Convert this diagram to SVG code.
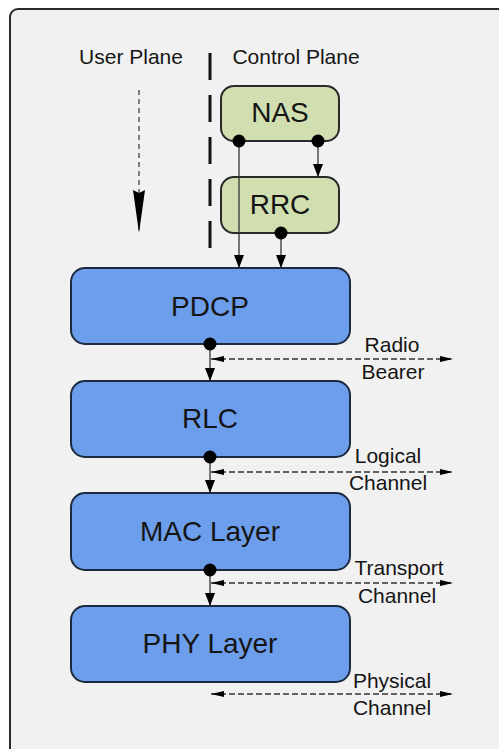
<svg xmlns="http://www.w3.org/2000/svg" width="499" height="749" viewBox="0 0 499 749">
  <style>
    .frame { fill: #f1f1f1; stroke: #2b2b2b; stroke-width: 2; }
    .layer { fill: #6d9eeb; stroke: #1c2a40; stroke-width: 2; }
    .ctrl { fill: #d1dfb0; stroke: #2a2a2a; stroke-width: 2; }
    .big { font-family: "Liberation Sans", Arial, sans-serif; font-size: 28px; fill: #151515; text-anchor: middle; }
    .lbl { font-family: "Liberation Sans", Arial, sans-serif; font-size: 21px; fill: #151515; text-anchor: middle; }
    .down { stroke: #333; stroke-width: 1.3; fill: none; marker-end: url(#head); }
    .chan { stroke: #333; stroke-width: 1.5; fill: none; stroke-dasharray: 6 3; marker-start: url(#tip); marker-end: url(#tip); }
    .dot { fill: #000; }
  </style>
  <defs>
    <marker id="head" viewBox="0 0 13 10" refX="13" refY="5" markerWidth="13" markerHeight="10" markerUnits="userSpaceOnUse" orient="auto">
      <path d="M0,0 L13,5 L0,10 z" fill="#000"/>
    </marker>
    <marker id="tip" viewBox="0 0 13 6" refX="13" refY="3" markerWidth="13" markerHeight="6" markerUnits="userSpaceOnUse" orient="auto-start-reverse">
      <path d="M0,0 L13,3 L0,6 z" fill="#000"/>
    </marker>
    <marker id="longhead" viewBox="0 0 43 12" refX="43" refY="6" markerWidth="43" markerHeight="12" markerUnits="userSpaceOnUse" orient="auto">
      <path d="M0,0 L43,6 L0,12 L3,6 z" fill="#000"/>
    </marker>
  </defs>

  <!-- outer panel, cut at the right and bottom edges -->
  <rect class="frame" x="10" y="9" width="520" height="770" rx="8"/>

  <!-- plane headings and divider -->
  <g id="planes">
    <text class="lbl" x="131" y="64">User Plane</text>
    <text class="lbl" x="296" y="64">Control Plane</text>
    <line x1="210" y1="53" x2="210" y2="248" stroke="#111" stroke-width="3" stroke-dasharray="27 15"/>
    <line x1="139" y1="90" x2="139" y2="233" stroke="#444" stroke-width="1.3" stroke-dasharray="5 4" marker-end="url(#longhead)"/>
  </g>

  <g id="nas">
    <rect class="ctrl" x="221" y="86" width="118" height="55" rx="13"/>
    <text class="big" x="280" y="122">NAS</text>
  </g>
  <g id="rrc">
    <rect class="ctrl" x="221" y="177" width="118" height="56" rx="13"/>
    <text class="big" x="280" y="214">RRC</text>
  </g>
  <g id="pdcp">
    <rect class="layer" x="71" y="268" width="279" height="76" rx="14"/>
    <text class="big" x="210" y="316">PDCP</text>
  </g>
  <g id="rlc">
    <rect class="layer" x="71" y="381" width="279" height="76" rx="14"/>
    <text class="big" x="210" y="428">RLC</text>
  </g>
  <g id="mac">
    <rect class="layer" x="71" y="493" width="279" height="77" rx="14"/>
    <text class="big" x="210" y="541">MAC Layer</text>
  </g>
  <g id="phy">
    <rect class="layer" x="71" y="606" width="279" height="76" rx="14"/>
    <text class="big" x="210" y="653">PHY Layer</text>
  </g>

  <!-- connectors between layers -->
  <g id="connectors">
    <line class="down" x1="239" y1="141" x2="239" y2="268"/>
    <line class="down" x1="318" y1="141" x2="318" y2="177"/>
    <line class="down" x1="281" y1="233" x2="281" y2="268"/>
    <line class="down" x1="210" y1="344" x2="210" y2="381"/>
    <line class="down" x1="210" y1="457" x2="210" y2="493"/>
    <line class="down" x1="210" y1="570" x2="210" y2="606"/>

    <circle class="dot" cx="239" cy="141" r="6.5"/>
    <circle class="dot" cx="318" cy="141" r="6.5"/>
    <circle class="dot" cx="281" cy="233" r="6.5"/>
    <circle class="dot" cx="210" cy="344" r="6.5"/>
    <circle class="dot" cx="210" cy="457" r="6.5"/>
    <circle class="dot" cx="210" cy="570" r="6.5"/>

    <line class="chan" x1="211" y1="359" x2="453" y2="359"/>
    <line class="chan" x1="211" y1="472" x2="453" y2="472"/>
    <line class="chan" x1="211" y1="583" x2="453" y2="583"/>
    <line class="chan" x1="211" y1="694" x2="453" y2="694"/>
  </g>

  <!-- channel labels -->
  <g id="channel-labels">
    <text class="lbl" x="392" y="352">Radio</text>
    <text class="lbl" x="393" y="379">Bearer</text>
    <text class="lbl" x="388" y="463">Logical</text>
    <text class="lbl" x="388" y="490">Channel</text>
    <text class="lbl" x="399" y="575">Transport</text>
    <text class="lbl" x="397" y="603">Channel</text>
    <text class="lbl" x="392" y="688">Physical</text>
    <text class="lbl" x="392" y="715">Channel</text>
  </g>
</svg>
